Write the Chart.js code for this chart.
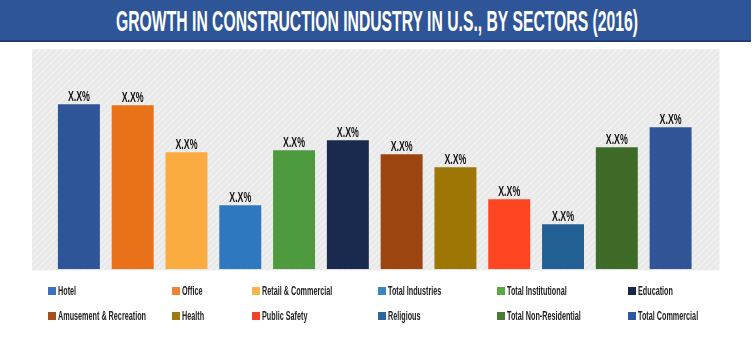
<!DOCTYPE html>
<html>
<head>
<meta charset="utf-8">
<script src="https://cdn.jsdelivr.net/npm/chart.js@4.4.1/dist/chart.umd.min.js"></script>
<style>
  html, body { margin: 0; padding: 0; background: #fff; }
  #wrap { position: relative; width: 755px; height: 355px; overflow: hidden; }
  #c { position: absolute; left: 0; top: 0; }
  #titlebar { position: absolute; left: 0; top: 0; width: 751px; height: 40px; background: #2E5597; border-bottom: 2px solid #1F3F78; box-sizing: content-box; }
  #titletext { position: absolute; left: 377px; top: 4px; white-space: nowrap;
           font-family: "Liberation Sans", Arial, sans-serif; font-weight: bold; font-size: 29px; color: #fff; line-height: 34px;
           transform-origin: center center; }
  .lg { position: absolute; height: 14px; white-space: nowrap; }
  .lg i { position: absolute; left: 0; top: 3px; width: 8px; height: 8px; }
  .lg span { position: absolute; left: 10px; top: 0; display: inline-block; transform-origin: left center;
             font-family: "Liberation Sans", Arial, sans-serif; font-weight: bold; font-size: 13px; line-height: 14px; color: #222; }
</style>
</head>
<body>
<div id="wrap">
  <canvas id="c" width="755" height="355"></canvas>
  <div id="titlebar"><span id="titletext">GROWTH IN CONSTRUCTION INDUSTRY IN U.S., BY SECTORS (2016)</span></div>
  <div id="legend"></div>
</div>
<script>
// ---- data ----
const categories = ["Hotel", "Office", "Retail & Commercial", "Total Industries", "Total Institutional", "Education",
                    "Amusement & Recreation", "Health", "Public Safety", "Religious", "Total Non-Residential", "Total Commercial"];
const growthValues = [16.5, 16.4, 11.7, 6.4, 11.9, 12.9, 11.5, 10.2, 7.0, 4.5, 12.2, 14.2];
const valueLabels = ["X.X%", "X.X%", "X.X%", "X.X%", "X.X%", "X.X%", "X.X%", "X.X%", "X.X%", "X.X%", "X.X%", "X.X%"];
const barColors = ["#2E5597", "#E8711A", "#FBAC40", "#2E78BF", "#4E9A3E", "#1A2A4E",
                   "#9C4511", "#9E7606", "#FF4521", "#236195", "#3E6B27", "#2F5597"];
const legendColors = ["#3C71C2", "#EE8332", "#F9B54A", "#3B84C6", "#55A843", "#172746",
                      "#A5501A", "#9E7A10", "#F2402A", "#2A67A0", "#4A7A33", "#2C58A0"];

// ---- title condense ----
const tt = document.getElementById('titletext');
const tw = tt.getBoundingClientRect().width;
tt.style.transform = 'translateX(-50%) scaleX(' + (522 / tw) + ')';

// ---- hatch pattern ----
function makePattern() {
  const p = document.createElement('canvas');
  p.width = 6; p.height = 6;
  const g = p.getContext('2d');
  g.fillStyle = '#e9e9e9';
  g.fillRect(0, 0, 6, 6);
  g.strokeStyle = '#f3f3f3';
  g.lineWidth = 1.2;
  g.beginPath();
  g.moveTo(-1, 7); g.lineTo(7, -1);
  g.moveTo(-4, 4); g.lineTo(4, -4);
  g.moveTo(2, 10); g.lineTo(10, 2);
  g.stroke();
  return g.createPattern(p, 'repeat');
}

const bgPlugin = {
  id: 'bgPanel',
  beforeDraw(chart) {
    const { ctx, chartArea } = chart;
    ctx.save();
    ctx.fillStyle = makePattern();
    ctx.fillRect(chartArea.left - 20, chartArea.top, (chartArea.right - chartArea.left) + 42, (chartArea.bottom - chartArea.top) + 1);
    ctx.restore();
  }
};

const labelPlugin = {
  id: 'valLabels',
  afterDatasetsDraw(chart) {
    const { ctx } = chart;
    const meta = chart.getDatasetMeta(0);
    ctx.save();
    ctx.font = 'bold 14px "Liberation Sans", Arial, sans-serif';
    ctx.fillStyle = '#151515';
    ctx.textBaseline = 'alphabetic';
    meta.data.forEach((bar, i) => {
      const txt = valueLabels[i];
      const w = ctx.measureText(txt).width;
      const s = 22 / w;
      ctx.save();
      ctx.translate(bar.x, bar.y - 3);
      ctx.scale(s, 1);
      ctx.textAlign = 'center';
      ctx.fillText(txt, 0, 0);
      ctx.restore();
    });
    ctx.restore();
  }
};

const chart = new Chart(document.getElementById('c'), {
  type: 'bar',
  data: {
    labels: categories,
    datasets: [{ data: growthValues, backgroundColor: barColors, borderWidth: 0,
                 categoryPercentage: 0.78, barPercentage: 1.0 }]
  },
  options: {
    responsive: false,
    animation: false,
    layout: { padding: { left: 52, right: 57.5, top: 49.3, bottom: 85.7 } },
    scales: {
      x: { display: false },
      y: { display: false, min: 0, max: 22 }
    },
    plugins: { legend: { display: false }, tooltip: { enabled: false }, title: { display: false } }
  },
  plugins: [bgPlugin, labelPlugin]
});

// ---- legend (HTML grid) ----
const colX = [48, 172, 252, 378, 497, 628];
const rowY = [284, 309];
const lg = document.getElementById('legend');
const items = [];
categories.forEach((name, i) => {
  const d = document.createElement('div');
  d.className = 'lg';
  d.style.left = colX[i % 6] + 'px';
  d.style.top = rowY[Math.floor(i / 6)] + 'px';
  const b = document.createElement('i');
  b.style.background = legendColors[i];
  const s = document.createElement('span');
  s.textContent = name;
  d.appendChild(b); d.appendChild(s);
  lg.appendChild(d);
  items.push(s);
});
const refW = items[6].getBoundingClientRect().width;
const lscale = 88 / refW;
items.forEach(s => { s.style.transform = 'scaleX(' + lscale + ')'; });
</script>
</body>
</html>
